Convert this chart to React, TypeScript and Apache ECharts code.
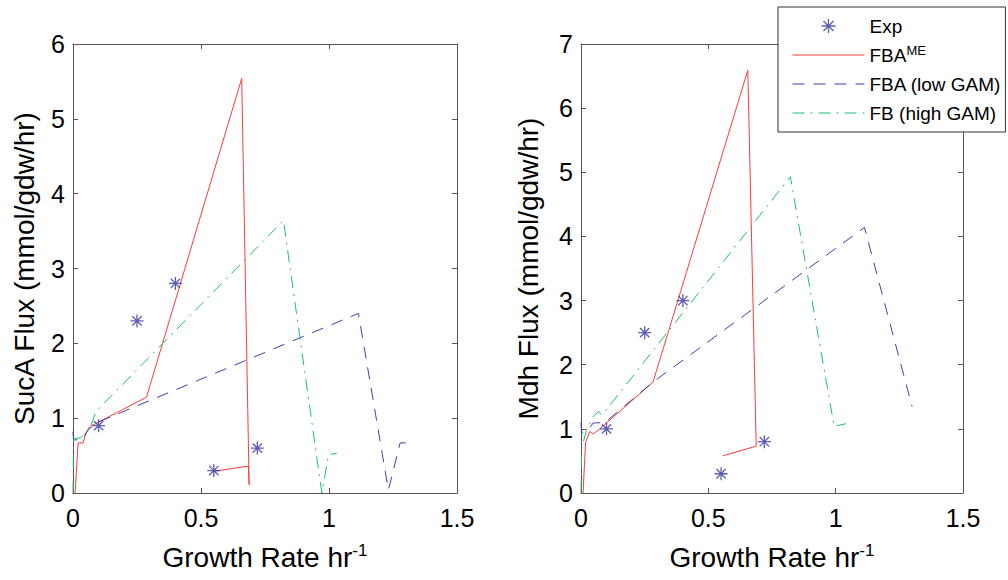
import React, { useEffect, useRef } from 'react';
import * as echarts from 'echarts';

const FONT = 'Liberation Sans, Arial, Helvetica, sans-serif';
const AX = '#555555';
const RED = '#ff3a3a';
const BLUE = '#3f3fae';
const STARBLUE = '#3535a5';
const GREEN = '#1fbf6f';

// ---- data ----
const xTicks = [0, 0.5, 1, 1.5];
const expGrowth = [0.1, 0.25, 0.4, 0.55, 0.72];
const sucaExp = [0.9, 2.3, 2.8, 0.3, 0.6];
const mdhExp = [1.0, 2.5, 3.0, 0.3, 0.8];

// SucA panel
const sucaMeX = [0.008, 0.02, 0.04, 0.05, 0.068, 0.287, 0.659, 0.688, 0.685, 0.55];
const sucaMeY = [0, 0.67, 0.67, 0.8, 0.89, 1.28, 5.54, 0.11, 0.36, 0.29];
const sucaLowX = [0, 0.002, 0.035, 0.06, 0.1, 1.115, 1.232, 1.278, 1.3];
const sucaLowY = [0.82, 0.71, 0.71, 0.85, 0.95, 2.4, 0.04, 0.67, 0.67];
const sucaHighX = [0, 0.002, 0.03, 0.065, 0.09, 0.822, 0.972, 0.998, 1.03];
const sucaHighY = [0, 0.72, 0.74, 0.85, 1.09, 3.64, 0, 0.51, 0.53];

// Mdh panel
const mdhMeX = [0.008, 0.018, 0.035, 0.048, 0.074, 0.283, 0.655, 0.688, 0.557];
const mdhMeY = [0, 0.79, 0.96, 0.92, 1.0, 1.73, 6.59, 0.73, 0.58];
const mdhLowX = [0, 0.002, 0.03, 0.047, 0.094, 0.283, 1.113, 1.3];
const mdhLowY = [1.1, 0.94, 0.99, 1.09, 1.1, 1.73, 4.14, 1.35];
const mdhHighX = [0, 0.003, 0.022, 0.05, 0.07, 0.08, 0.09, 0.822, 0.994, 1.04];
const mdhHighY = [0, 0.7, 0.99, 1.2, 1.27, 1.22, 1.25, 4.93, 1.04, 1.08];

const NAMES = ['Exp', 'FBA^ME', 'FBA (low GAM)', 'FB (high GAM)'];

const STAR = 'path://M0,-1L0,1M-1,0L1,0M-0.72,-0.72L0.72,0.72M-0.72,0.72L0.72,-0.72';

const zip = (xs: number[], ys: number[]) => xs.map((x, i) => [x, ys[i]]);

function lineSeries(name: string, xs: number[], ys: number[], panel: number, color: string, type: any) {
  return {
    type: 'line',
    name,
    xAxisIndex: panel * 2,
    yAxisIndex: panel * 2,
    data: zip(xs, ys),
    symbol: 'none',
    showSymbol: false,
    silent: true,
    lineStyle: { color, width: 1, type },
    itemStyle: { color },
    z: 3,
  };
}

function expSeries(ys: number[], panel: number) {
  return {
    type: 'scatter',
    name: 'Exp',
    xAxisIndex: panel * 2,
    yAxisIndex: panel * 2,
    data: zip(expGrowth, ys),
    symbol: STAR,
    symbolSize: 13,
    symbolKeepAspect: true,
    silent: true,
    itemStyle: { color: STARBLUE, borderColor: STARBLUE, borderWidth: 1.3 },
    z: 4,
  };
}

function xAxes(grid: number) {
  const common = {
    type: 'value',
    gridIndex: grid,
    min: xTicks[0],
    max: xTicks[xTicks.length - 1],
    interval: 0.5,
    splitLine: { show: false },
    axisLine: { show: true, onZero: false, lineStyle: { color: AX, width: 1 } },
    axisTick: { show: true, inside: true, length: 5, lineStyle: { color: AX } },
  };
  return [
    {
      ...common,
      position: 'bottom',
      axisLabel: { show: true, margin: 12, fontSize: 25, color: '#000', fontFamily: FONT },
      name: 'Growth Rate hr{s|-1}',
      nameLocation: 'middle',
      nameGap: 49,
      nameTextStyle: {
        fontSize: 28,
        color: '#000',
        fontFamily: FONT,
        lineHeight: 30,
        rich: { s: { fontSize: 17, fontFamily: FONT, color: '#000', verticalAlign: 'top', lineHeight: 10 } },
      },
    },
    { ...common, position: 'top', axisLabel: { show: false } },
  ];
}

function yAxes(grid: number, ymax: number, name: string, gap: number) {
  const common = {
    type: 'value',
    gridIndex: grid,
    min: 0,
    max: ymax,
    interval: 1,
    splitLine: { show: false },
    axisLine: { show: true, onZero: false, lineStyle: { color: AX, width: 1 } },
    axisTick: { show: true, inside: true, length: 5, lineStyle: { color: AX } },
  };
  return [
    {
      ...common,
      position: 'left',
      axisLabel: { show: true, margin: 8, fontSize: 25, color: '#000', fontFamily: FONT },
      name,
      nameLocation: 'middle',
      nameGap: gap,
      nameTextStyle: { fontSize: 28, color: '#000', fontFamily: FONT },
    },
    { ...common, position: 'right', axisLabel: { show: false } },
  ];
}

const option: any = {
  animation: false,
  backgroundColor: '#ffffff',
  textStyle: { fontFamily: FONT },
  grid: [
    { left: 73, top: 44, width: 384, height: 449, containLabel: false },
    { left: 581, top: 44, width: 382, height: 449, containLabel: false },
  ],
  xAxis: [...xAxes(0), ...xAxes(1)],
  yAxis: [...yAxes(0, 6, 'SucA Flux (mmol/gdw/hr)', 35), ...yAxes(1, 7, 'Mdh Flux (mmol/gdw/hr)', 39)],
  legend: {
    data: [
      { name: NAMES[0] },
      { name: NAMES[1], itemStyle: { opacity: 0 } },
      { name: NAMES[2], itemStyle: { opacity: 0 } },
      { name: NAMES[3], itemStyle: { opacity: 0 } },
    ],
    orient: 'vertical',
    left: 778,
    top: 7,
    padding: [8, 4, 8, 14],
    itemWidth: 72,
    itemHeight: 14,
    itemGap: 7,
    backgroundColor: '#ffffff',
    borderColor: '#333333',
    borderWidth: 1,
    selectedMode: false,
    z: 10,
    itemStyle: { borderWidth: 1.3 },
    lineStyle: { width: 1 },
    textStyle: {
      fontSize: 19,
      lineHeight: 22,
      color: '#000',
      fontFamily: FONT,
      rich: { s: { fontSize: 13, fontFamily: FONT, color: '#000', verticalAlign: 'top', lineHeight: 10 } },
    },
    formatter: (n: string) => (n === 'FBA^ME' ? 'FBA{s|ME}' : n),
  },
  series: [
    lineSeries(NAMES[1], sucaMeX, sucaMeY, 0, RED, 'solid'),
    lineSeries(NAMES[2], sucaLowX, sucaLowY, 0, BLUE, [12, 9]),
    lineSeries(NAMES[3], sucaHighX, sucaHighY, 0, GREEN, [12, 6, 2, 6]),
    expSeries(sucaExp, 0),
    lineSeries(NAMES[1], mdhMeX, mdhMeY, 1, RED, 'solid'),
    lineSeries(NAMES[2], mdhLowX, mdhLowY, 1, BLUE, [12, 9]),
    lineSeries(NAMES[3], mdhHighX, mdhHighY, 1, GREEN, [12, 6, 2, 6]),
    expSeries(mdhExp, 1),
  ],
};

export default function App() {
  const ref = useRef<HTMLDivElement>(null);
  useEffect(() => {
    const chart = echarts.init(ref.current!, null, { renderer: 'svg' });
    chart.setOption(option);
    return () => chart.dispose();
  }, []);
  return (
    <div
      ref={ref}
      style={{ position: 'fixed', left: 0, top: 0, width: 1008, height: 580, background: '#fff' }}
    />
  );
}
